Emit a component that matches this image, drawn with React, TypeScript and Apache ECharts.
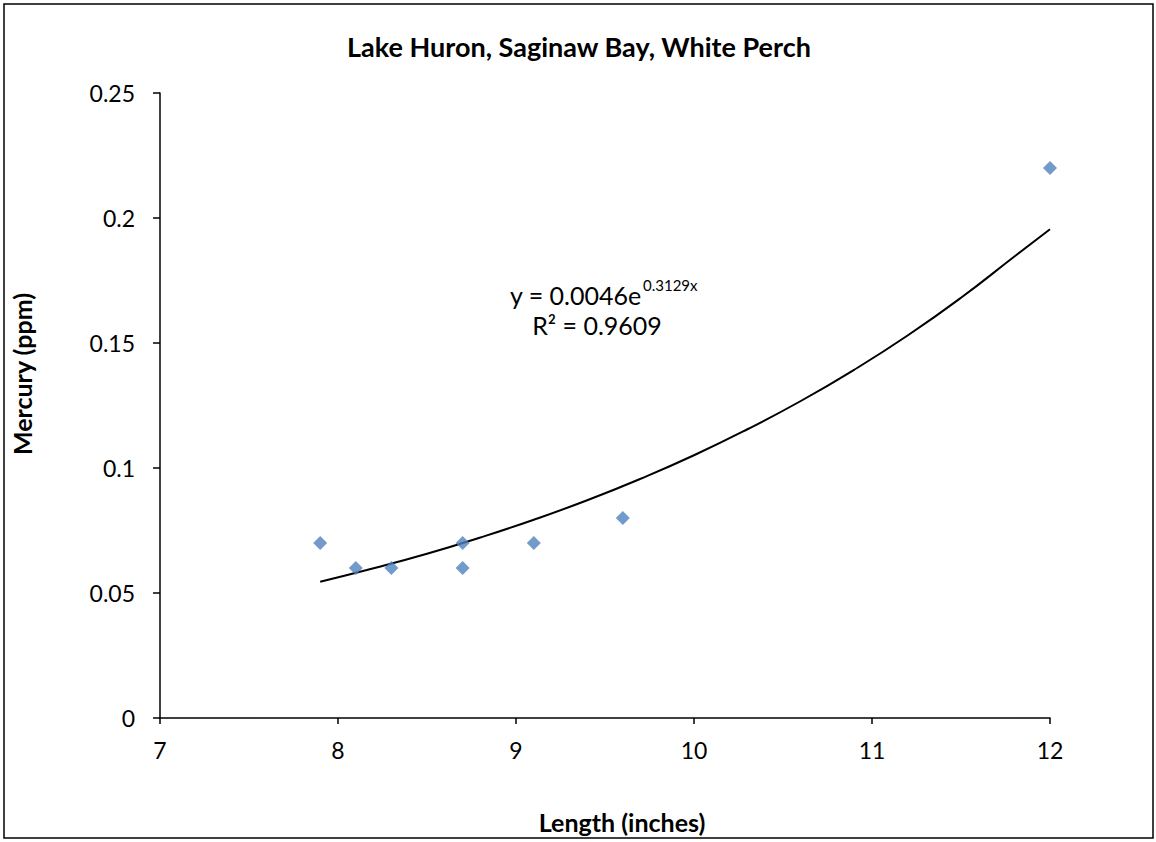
import React, { useEffect, useRef } from "react";
import * as echarts from "echarts";

const lengths = [7.9, 8.1, 8.3, 8.7, 8.7, 9.1, 9.6, 12];
const mercury = [0.07, 0.06, 0.06, 0.07, 0.06, 0.07, 0.08, 0.22];
const trendX = [7.9, 8.2, 8.5, 8.8, 9.1, 9.4, 9.7, 10.0, 10.3, 10.6, 10.9, 11.2, 11.5, 11.8, 12.0];
const trendY = [0.0545, 0.0599, 0.0657, 0.0722, 0.0793, 0.0871, 0.0957, 0.1051, 0.1155, 0.1268, 0.1393, 0.153, 0.1681, 0.1846, 0.1955];
const titleText = "Lake Huron, Saginaw Bay, White Perch";
const xTitle = "Length (inches)";
const yTitle = "Mercury (ppm)";
const eqMain = "y = 0.0046e";
const eqSup = "0.3129x";
const r2Text = "R² = 0.9609";

const FONT = "Lato, 'Open Sans', sans-serif";

export default function App() {
  const ref = useRef<HTMLDivElement>(null);
  useEffect(() => {
    if (!ref.current) return;
    const chart = echarts.init(ref.current, null, { renderer: "svg" });
    chart.setOption({
      animation: false,
      backgroundColor: "#fff",
      grid: { left: 160, right: 106, top: 93, bottom: 124 },
      xAxis: {
        type: "value",
        min: 7,
        max: 12,
        interval: 1,
        splitLine: { show: false },
        axisLine: { show: true, onZero: false, lineStyle: { color: "#000", width: 1.5 } },
        axisTick: { show: true, length: 6, lineStyle: { color: "#000", width: 1.5 } },
        axisLabel: { color: "#000", fontSize: 23, fontFamily: FONT, margin: 20 },
      },
      yAxis: {
        type: "value",
        min: 0,
        max: 0.25,
        interval: 0.05,
        splitLine: { show: false },
        axisLine: { show: true, lineStyle: { color: "#000", width: 1.5 } },
        axisTick: { show: true, length: 7, lineStyle: { color: "#000", width: 1.5 } },
        axisLabel: { color: "#000", fontSize: 23, fontFamily: FONT, margin: 25 },
      },
      series: [
        {
          type: "line",
          data: trendX.map((x, i) => [x, trendY[i]]),
          smooth: true,
          showSymbol: false,
          lineStyle: { color: "#000", width: 2 },
          z: 2,
        },
        {
          type: "scatter",
          data: lengths.map((x, i) => [x, mercury[i]]),
          symbol: "diamond",
          symbolSize: 14,
          itemStyle: { color: "#4F81BD" },
          z: 3,
        },
      ],
      graphic: [
        {
          type: "rect",
          shape: { x: 4, y: 4, width: 1149, height: 834 },
          style: { fill: "none", stroke: "#000", lineWidth: 1.5 },
        },
        {
          type: "text",
          x: 579,
          y: 46,
          style: { text: titleText, fontSize: 27, fontWeight: "bold", fontFamily: FONT, fill: "#000", align: "center", verticalAlign: "middle" },
        },
        {
          type: "text",
          x: 622,
          y: 822,
          style: { text: xTitle, fontSize: 25, fontWeight: "bold", fontFamily: FONT, fill: "#000", align: "center", verticalAlign: "middle" },
        },
        {
          type: "text",
          x: 22,
          y: 374,
          rotation: Math.PI / 2,
          style: { text: yTitle, fontSize: 25, fontWeight: "bold", fontFamily: FONT, fill: "#000", align: "center", verticalAlign: "middle" },
        },
        {
          type: "text",
          x: 510,
          y: 295,
          style: { text: eqMain, fontSize: 25, fontFamily: FONT, fill: "#000", align: "left", verticalAlign: "middle" },
        },
        {
          type: "text",
          x: 643,
          y: 285,
          style: { text: eqSup, fontSize: 15, fontFamily: FONT, fill: "#000", align: "left", verticalAlign: "middle" },
        },
        {
          type: "text",
          x: 597,
          y: 325,
          style: { text: r2Text, fontSize: 25, fontFamily: FONT, fill: "#000", align: "center", verticalAlign: "middle" },
        },
      ],
    });
    return () => chart.dispose();
  }, []);
  return <div ref={ref} style={{ position: "fixed", left: 0, top: 0, width: 1156, height: 842 }} />;
}
